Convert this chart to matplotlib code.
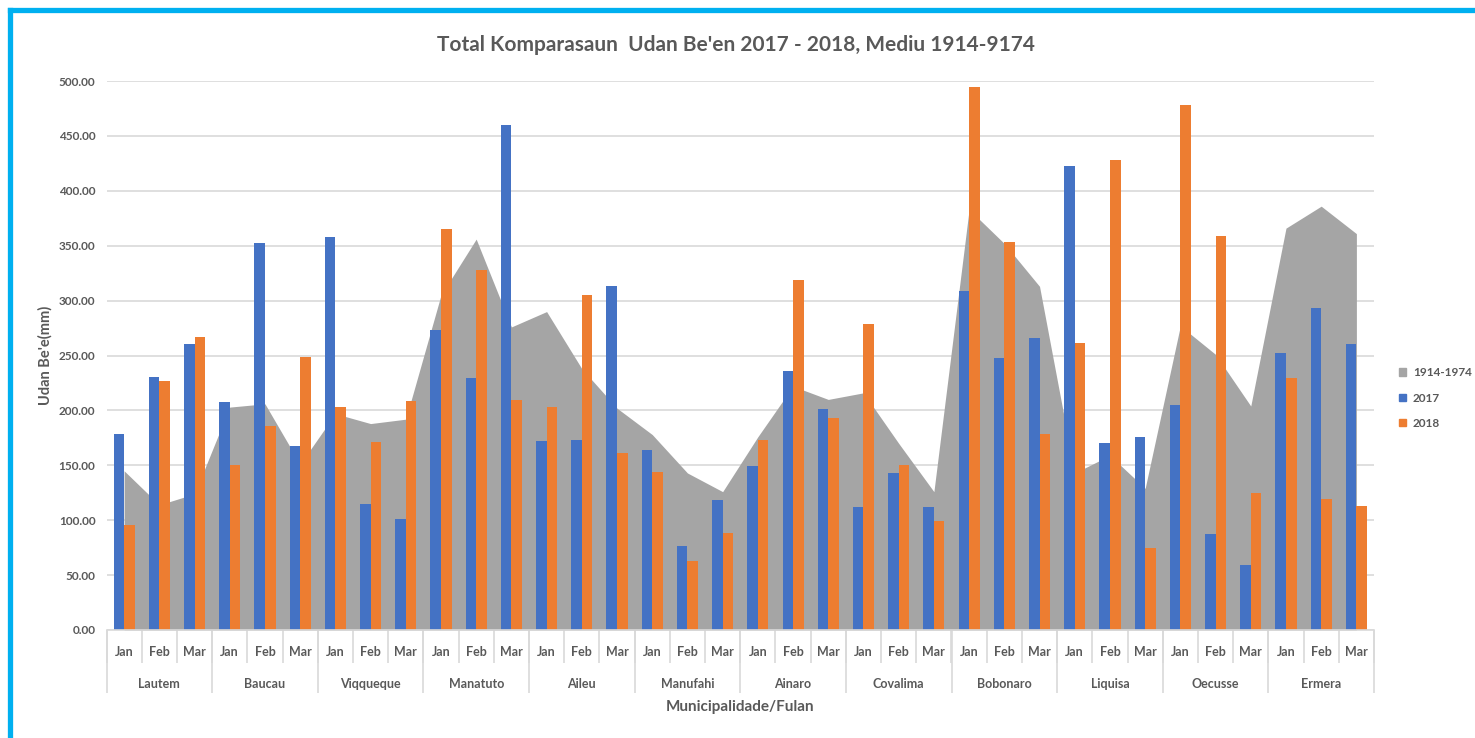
import numpy as np
import matplotlib.pyplot as plt
from matplotlib.patches import Patch
from matplotlib.lines import Line2D

plt.rcParams['font.family'] = ['Lato', 'DejaVu Sans']

municipios = ['Lautem', 'Baucau', 'Viqqueque', 'Manatuto', 'Aileu', 'Manufahi',
              'Ainaro', 'Covalima', 'Bobonaro', 'Liquisa', 'Oecusse', 'Ermera']
fulan = ['Jan', 'Feb', 'Mar']

# average 1914-1974 (area)
mediu = [145, 114, 124, 203, 206, 151, 197, 188, 192, 305, 356, 276,
         290, 238, 202, 178, 143, 126, 176, 222, 210, 216, 170, 126,
         383, 352, 313, 143, 159, 129, 277, 251, 204, 366, 386, 361]
udan_2017 = [178.6, 230.6, 260.6, 207.6, 352.8, 167.5, 357.6, 115, 100.8,
             272.9, 229.2, 459.5, 172.4, 173.4, 313.7, 164, 76.8, 118,
             149.3, 236.2, 201.3, 111.7, 143.4, 111.7, 309.1, 247.4, 265.5,
             422.9, 169.9, 176.2, 205.2, 87.2, 59.3, 252.3, 293.4, 260.6]
udan_2018 = [96, 226.8, 266.6, 150.7, 185.6, 248.8, 202.7, 171, 208.7,
             365, 328.3, 209.7, 202.7, 305.3, 161.2, 144.1, 63.2, 88.6,
             173.4, 318.6, 193, 279.1, 150.7, 99.4, 494.4, 353.5, 178.3,
             261.7, 427.8, 75, 477.7, 358.7, 124.9, 229.2, 119, 112.7]

c_grey = '#A5A5A5'
c_blue = '#4472C4'
c_orange = '#ED7D31'
c_text = '#595959'
c_line = '#D9D9D9'

fig = plt.figure(figsize=(14.75, 7.38), dpi=100)
ax = fig.add_axes([106.5 / 1475, 1 - 630 / 738, (1374 - 106.5) / 1475, (630 - 81) / 738])

x = np.arange(len(mediu))
w = 0.3
ax.fill_between(x, mediu, color=c_grey, lw=0, zorder=1, label='1914-1974')
ax.bar(x - w / 2, udan_2017, width=w, color=c_blue, zorder=2, label='2017')
ax.bar(x + w / 2, udan_2018, width=w, color=c_orange, zorder=2, label='2018')

ax.set_xlim(-0.5, len(x) - 0.5)
ax.set_ylim(0, 500)
ax.set_yticks(np.arange(0, 501, 50))
ax.set_yticklabels(['%.2f' % v for v in np.arange(0, 501, 50)])
ax.grid(axis='y', color=c_line, lw=1.2, zorder=0)
ax.set_axisbelow(True)
for s in ['top', 'right', 'left']:
    ax.spines[s].set_visible(False)
ax.spines['bottom'].set_color(c_line)
ax.spines['bottom'].set_linewidth(1.2)
ax.tick_params(axis='y', length=0, pad=8, labelsize=8.5, labelcolor=c_text)
for t in ax.get_yticklabels():
    t.set_fontweight('bold')

# month level
ax.set_xticks(x)
ax.set_xticklabels(fulan * len(municipios), fontsize=9, color=c_text, fontweight='bold')
ax.tick_params(axis='x', which='major', length=0, pad=11.5)
ax.set_xticks(np.arange(-0.5, len(x), 1), minor=True)
ax.tick_params(axis='x', which='minor', length=24, color=c_line, width=1.2)

# municipality level
sec = ax.secondary_xaxis('bottom')
sec.spines['bottom'].set_visible(False)
sec.set_xticks(np.arange(1, len(x), 3))
sec.set_xticklabels(municipios, fontsize=9, color=c_text, fontweight='bold')
sec.tick_params(axis='x', which='major', length=0, pad=34.5)
sec.set_xticks(np.arange(-0.5, len(x), 3), minor=True)
sec.tick_params(axis='x', which='minor', length=45, color=c_line, width=1.2)

fig.text(736 / 1475, 1 - 45 / 738, "Total Komparasaun  Udan Be'en 2017 - 2018, Mediu 1914-9174",
         ha='center', va='center', fontsize=15, fontweight='bold', color=c_text)
fig.text(45 / 1475, 1 - 355 / 738, "Udan Be'e(mm)", ha='center', va='center',
         rotation=90, fontsize=10.5, fontweight='bold', color=c_text)
fig.text(740 / 1475, 1 - 707 / 738, 'Municipalidade/Fulan', ha='center', va='center',
         fontsize=11, fontweight='bold', color=c_text)

handles = [Patch(color=c_grey, label='1914-1974'),
           Patch(color=c_blue, label='2017'),
           Patch(color=c_orange, label='2018')]
leg = fig.legend(handles=handles, loc='center left', bbox_to_anchor=(1388 / 1475, 1 - 398 / 738),
                 frameon=False, handlelength=0.6, handleheight=0.6, handletextpad=0.6,
                 labelspacing=1.2, prop={'size': 8.5, 'weight': 'bold'})
for t in leg.get_texts():
    t.set_color(c_text)

# outer cyan frame
fig.add_artist(Line2D([10 / 1475, 1], [1 - 10 / 738, 1 - 10 / 738], color='#00B0F0', lw=3.8,
                      transform=fig.transFigure))
fig.add_artist(Line2D([10 / 1475, 10 / 1475], [0, 1 - 10 / 738], color='#00B0F0', lw=3.8,
                      transform=fig.transFigure))

fig.savefig('out.png', dpi=100, facecolor='white')
